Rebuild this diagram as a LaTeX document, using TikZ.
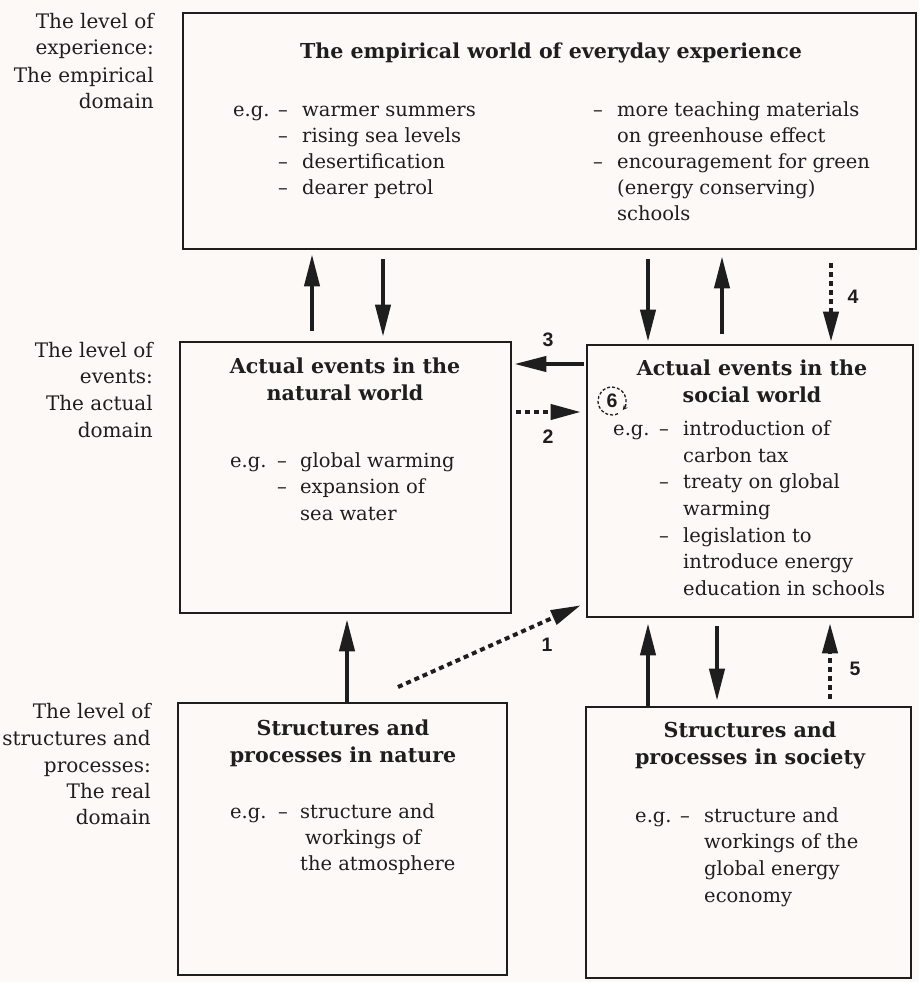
\documentclass[tikz,border=0pt]{standalone}
\usepackage{fontspec}
\setmainfont{DejaVu Serif}
\newfontfamily\numfont{Liberation Sans}
\usetikzlibrary{arrows.meta,calc}
\definecolor{ink}{RGB}{30,30,30}
\definecolor{paper}{RGB}{253,249,247}
\tikzset{
  box/.style={draw=ink, line width=2.6pt, inner sep=0pt},
  txt/.style={anchor=base west, inner sep=0pt, text=ink, font=\fontsize{19.5}{24}\selectfont},
  ttl/.style={anchor=base, inner sep=0pt, text=ink, font=\fontsize{20.6}{24}\selectfont\bfseries},
  lbl/.style={anchor=base east, inner sep=0pt, text=ink, font=\fontsize{20}{24}\selectfont},
  num/.style={anchor=center, inner sep=0pt, text=ink, font=\numfont\bfseries\fontsize{19.5}{22}\selectfont},
  arr/.style={draw=ink, line width=4pt, -{Triangle[length=32pt,width=15pt]}},
  dotarr/.style={draw=ink, line width=4pt, dash pattern=on 5pt off 4pt, -{Triangle[length=30pt,width=15pt]}}
}
\begin{document}
\begin{tikzpicture}[x=1pt,y=-1pt]
\fill[paper] (0,0) rectangle (919,982);
\useasboundingbox (0,0) rectangle (919,982);

% boxes
\node[box, minimum width=733pt, minimum height=236pt] (top) at (549.5,131) {};
\node[box, minimum width=331pt, minimum height=271pt] (nat) at (345.5,477.5) {};
\node[box, minimum width=326pt, minimum height=272pt] (soc) at (750,481) {};
\node[box, minimum width=329pt, minimum height=272pt] (nstr) at (342.5,839) {};
\node[box, minimum width=325pt, minimum height=271pt] (sstr) at (748.5,842.5) {};

% left labels
\node[lbl] (l1a) at (154,29) {The level of};
\node[lbl] (l1b) at (154,55) {experience:};
\node[lbl] (l1c) at (154,82) {The empirical};
\node[lbl] (l1d) at (154,108) {domain};
\node[lbl] (l2a) at (153,357) {The level of};
\node[lbl] (l2b) at (153,383) {events:};
\node[lbl] (l2c) at (153,410) {The actual};
\node[lbl] (l2d) at (153,437) {domain};
\node[lbl] (l3a) at (151,718) {The level of};
\node[lbl] (l3b) at (151,745) {structures and};
\node[lbl] (l3c) at (151,772) {processes:};
\node[lbl] (l3d) at (151,798) {The real};
\node[lbl] (l3e) at (151,824) {domain};

% top box text
\node[ttl] (t0) at (551,59) {The empirical world of everyday experience};
\node[txt] (t1) at (233,116) {e.g.};
\node[txt] (t2) at (278,116) {\textendash};
\node[txt] (t3) at (302,116) {warmer summers};
\node[txt] (t4) at (278,142) {\textendash};
\node[txt] (t5) at (302,142) {rising sea levels};
\node[txt] (t6) at (278,168) {\textendash};
\node[txt] (t7) at (302,168) {desertification};
\node[txt] (t8) at (278,194) {\textendash};
\node[txt] (t9) at (302,194) {dearer petrol};
\node[txt] (t10) at (593,116) {\textendash};
\node[txt] (t11) at (617,116) {more teaching materials};
\node[txt] (t12) at (617,142) {on greenhouse effect};
\node[txt] (t13) at (593,168) {\textendash};
\node[txt] (t14) at (617,168) {encouragement for green};
\node[txt] (t15) at (617,194) {(energy conserving)};
\node[txt] (t16) at (617,220) {schools};

% natural events text
\node[ttl] (n0) at (345,373) {Actual events in the};
\node[ttl] (n1) at (345,400) {natural world};
\node[txt] (n2) at (230,467) {e.g.};
\node[txt] (n3) at (277,467) {\textendash};
\node[txt] (n4) at (300,467) {global warming};
\node[txt] (n5) at (277,493) {\textendash};
\node[txt] (n6) at (300,493) {expansion of};
\node[txt] (n7) at (300,520) {sea water};

% social events text
\node[ttl] (s0) at (752,375) {Actual events in the};
\node[ttl] (s1) at (752,402) {social world};
\node[txt] (s2) at (613,435) {e.g.};
\node[txt] (s3) at (659,435) {\textendash};
\node[txt] (s4) at (683,435) {introduction of};
\node[txt] (s5) at (683,462) {carbon tax};
\node[txt] (s6) at (659,488) {\textendash};
\node[txt] (s7) at (683,488) {treaty on global};
\node[txt] (s8) at (683,515) {warming};
\node[txt] (s9) at (659,542) {\textendash};
\node[txt] (s10) at (683,542) {legislation to};
\node[txt] (s11) at (683,568) {introduce energy};
\node[txt] (s12) at (683,595) {education in schools};

% nature structures text
\node[ttl] (p0) at (343,735) {Structures and};
\node[ttl] (p1) at (343,762) {processes in nature};
\node[txt] (p2) at (230,818) {e.g.};
\node[txt] (p3) at (278,818) {\textendash};
\node[txt] (p4) at (300,818) {structure and};
\node[txt] (p5) at (305,844) {workings of};
\node[txt] (p6) at (300,870) {the atmosphere};

% society structures text
\node[ttl] (q0) at (750,737) {Structures and};
\node[ttl] (q1) at (750,764) {processes in society};
\node[txt] (q2) at (635,822) {e.g.};
\node[txt] (q3) at (680,822) {\textendash};
\node[txt] (q4) at (704,822) {structure and};
\node[txt] (q5) at (704,848) {workings of the};
\node[txt] (q6) at (704,875) {global energy};
\node[txt] (q7) at (704,902) {economy};

% column coordinates
\coordinate (c1) at (312,0);
\coordinate (c2) at (383,0);
\coordinate (c3) at (648,0);
\coordinate (c4) at (722,0);
\coordinate (c5) at (831,0);
\coordinate (c6) at (347,0);
\coordinate (c7) at (648,0);
\coordinate (c8) at (717,0);
\coordinate (c9) at (830,0);
\coordinate (r3) at (0,364);
\coordinate (r2) at (0,412);
\coordinate (d1) at (398,687);

% vertical arrows between top and actual level
\draw[arr, shorten <=10pt, shorten >=4pt] (c1 |- nat.north) -- (c1 |- top.south);
\draw[arr, shorten <=9pt, shorten >=4pt] (c2 |- top.south) -- (c2 |- nat.north);
\draw[arr, shorten <=9pt, shorten >=2pt] (c3 |- top.south) -- (c3 |- soc.north);
\draw[arr, shorten <=10pt, shorten >=6pt] (c4 |- soc.north) -- (c4 |- top.south);
\draw[dotarr, shorten <=13pt, shorten >=2pt] (c5 |- top.south) -- (c5 |- soc.north);
\node[num] (n4l) at (853,297) {4};

% horizontal arrows
\draw[arr, shorten <=2pt, shorten >=2pt] (soc.west |- r3) -- (nat.east |- r3);
\node[num] (n3l) at (548,340) {3};
\draw[dotarr, shorten <=4pt, shorten >=5pt] (nat.east |- r2) -- (soc.west |- r2);
\node[num] (n2l) at (548,437) {2};

% dashed circular arrow 6
\node[num] (six) at (612,401) {6};
\draw[ink, line width=1.3pt, dash pattern=on 3pt off 2pt, -{Stealth[length=5pt,width=5pt]}]
  ($(six.center)+(65:14)$) arc[start angle=65, end angle=400, radius=14];

% diagonal dotted arrow 1
\draw[dotarr] (d1) -- ($(soc.south west)+(-5,-13)$);
\node[num] (n1l) at (547,645) {1};

% bottom arrows
\draw[arr, shorten <=0pt, shorten >=5pt] (c6 |- nstr.north) -- (c6 |- nat.south);
\draw[arr, shorten <=0pt, shorten >=5pt] (c7 |- sstr.north) -- (c7 |- soc.south);
\draw[arr, shorten <=8pt, shorten >=5pt] (c8 |- soc.south) -- (c8 |- sstr.north);
\draw[dotarr, shorten <=7pt, shorten >=5pt] (c9 |- sstr.north) -- (c9 |- soc.south);
\node[num] (n5l) at (855,669) {5};
\end{tikzpicture}
\end{document}
